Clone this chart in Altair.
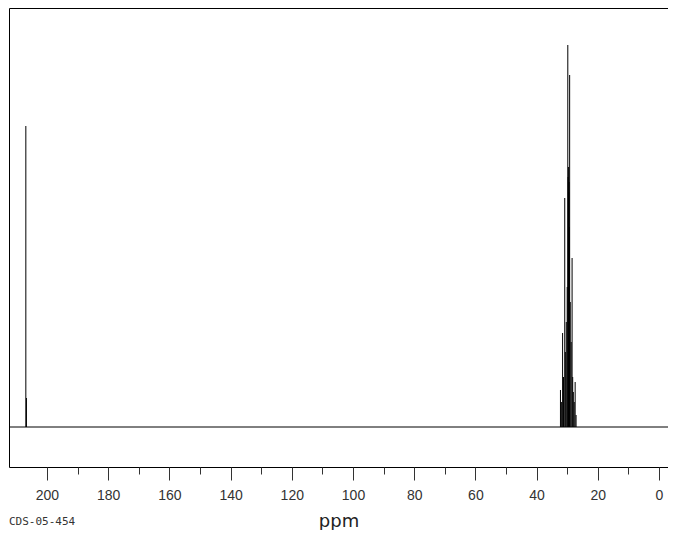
import altair as alt
import pandas as pd

# Peak positions (ppm) and heights (relative units)
peak_ppm = [206.9, 206.7,
            32.2, 31.9, 31.5, 31.2, 30.8, 30.6, 30.3, 30.0, 29.8, 29.7, 29.6, 29.5,
            29.4, 29.3, 29.2, 29.0, 28.7, 28.4, 28.2, 28.0, 27.7, 27.4, 27.1]
peak_height = [301, 29,
               37, 25, 94, 50, 229, 75, 105, 140, 382, 250, 260, 235,
               245, 200, 352, 125, 85, 169, 50, 35, 25, 45, 12]
major_ticks = list(range(0, 201, 20))
minor_ticks = list(range(10, 200, 20))

df = pd.DataFrame({"ppm": peak_ppm, "h": peak_height, "base": [0] * len(peak_ppm)})
base_df = pd.DataFrame({"ppm": [100.0], "base": [0]})

xscale = alt.Scale(domain=[212.4, -2.94], nice=False, zero=False)
yscale = alt.Scale(domain=[-40, 419], nice=False, zero=False)

major_axis = alt.Axis(
    values=major_ticks,
    orient="bottom",
    title="ppm",
    titleFont="DejaVu Sans",
    titleFontSize=18,
    titleFontWeight="normal",
    titleColor="#222",
    titlePadding=10,
    labelFont="Liberation Sans",
    labelFontSize=14,
    labelColor="#333",
    labelPadding=8,
    tickSize=13,
    tickColor="#333",
    domain=False,
    grid=False,
)

minor_axis = alt.Axis(
    values=minor_ticks,
    orient="bottom",
    title=None,
    labels=False,
    tickSize=7,
    tickColor="#333",
    domain=False,
    grid=False,
)

peaks = alt.Chart(df).mark_rule(color="black", strokeWidth=1).encode(
    x=alt.X("ppm:Q", scale=xscale, axis=major_axis),
    y=alt.Y("base:Q", scale=yscale, axis=None),
    y2="h:Q",
)

baseline = alt.Chart(base_df).mark_rule(color="black", strokeWidth=1).encode(
    y=alt.Y("base:Q", scale=yscale, axis=None),
)

minor = alt.Chart(base_df).mark_point(opacity=0).encode(
    x=alt.X("ppm:Q", scale=xscale, axis=minor_axis),
    y=alt.Y("base:Q", scale=yscale, axis=None),
)

chart = alt.layer(baseline, peaks, minor).resolve_axis(x="independent").properties(
    width=659,
    height=459,
    autosize=alt.AutoSizeParams(type="none"),
    padding={"left": 1, "top": 0, "right": 0, "bottom": 63},
    title=alt.TitleParams(
        "CDS-05-454",
        orient="bottom",
        anchor="start",
        frame="group",
        offset=-14,
        dx=0,
        font="DejaVu Sans Mono",
        fontSize=11,
        fontWeight="normal",
        color="#333",
    ),
).configure_view(stroke="black", strokeWidth=1)

chart.save("out.html", embed_options={"renderer": "svg", "actions": False})
